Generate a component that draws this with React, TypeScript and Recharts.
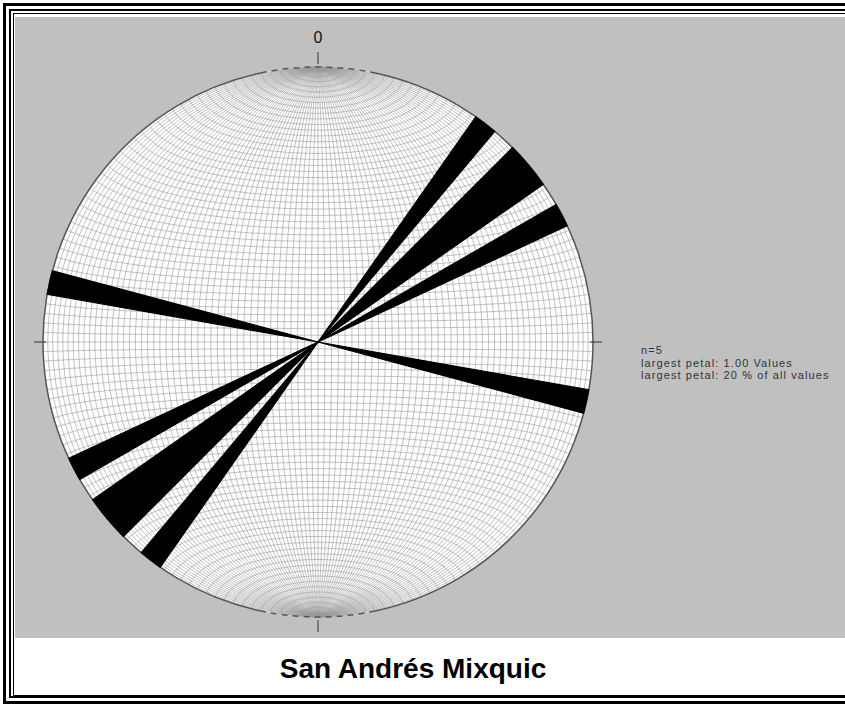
import React from "react";
import { PieChart, Pie, Cell, Customized } from "recharts";

// rose diagram, 5 degree classes, bidirectional (strike data)
const binSize = 5;
const strikeBins = [35, 45, 50, 60, 280];
const strikeCounts = [1, 1, 1, 1, 1];
const tickAngles = [0, 90, 180, 270];
const tickLabels = ["0", "", "", ""];
const statLines = [
  "n=5",
  "largest petal: 1.00 Values",
  "largest petal: 20 % of all values",
];
const title = "San Andrés Mixquic";

const W = 845;
const H = 704;
const CX = 318;
const CY = 342;
const R = 275;
const NET_STEP = 2;

const bins = Array.from({ length: 360 / binSize }, (_, i) => {
  const from = i * binSize;
  let count = 0;
  strikeBins.forEach((b, j) => {
    if (b === from || (b + 180) % 360 === from) count += strikeCounts[j];
  });
  return { from, span: binSize, count };
});

const rad = (d: number) => (d * Math.PI) / 180;

// equal-area (Schmidt) net, poles at N and S
function project(lam: number, phi: number) {
  const l = rad(lam);
  const p = rad(phi);
  const k = R / Math.sqrt(1 + Math.cos(p) * Math.cos(l));
  return [CX + k * Math.cos(p) * Math.sin(l), CY - k * Math.sin(p)];
}

function netPaths() {
  const out: string[] = [];
  for (let a = -90 + NET_STEP; a < 90; a += NET_STEP) {
    let g = "";
    let s = "";
    for (let t = -90; t <= 90; t += 1) {
      const [gx, gy] = project(a, t);
      g += (t === -90 ? "M" : "L") + gx.toFixed(1) + "," + gy.toFixed(1);
      const [sx, sy] = project(t, a);
      s += (t === -90 ? "M" : "L") + sx.toFixed(1) + "," + sy.toFixed(1);
    }
    out.push(g, s);
  }
  return out;
}

const polar = (az: number, r: number) => [
  CX + r * Math.sin(rad(az)),
  CY - r * Math.cos(rad(az)),
];

function arc(a0: number, a1: number) {
  const [x0, y0] = polar(a0, R);
  const [x1, y1] = polar(a1, R);
  const large = a1 - a0 > 180 ? 1 : 0;
  return `M${x0},${y0} A${R},${R} 0 ${large} 1 ${x1},${y1}`;
}

const NetLayer = () => (
  <g>
    <circle cx={CX} cy={CY} r={R} fill="#ffffff" />
    {netPaths().map((d, i) => (
      <path key={i} d={d} fill="none" stroke="#999" strokeWidth={0.6} />
    ))}
  </g>
);

const FrameLayer = () => (
  <g>
    <path d={arc(12, 168)} fill="none" stroke="#555" strokeWidth={1.5} />
    <path d={arc(192, 348)} fill="none" stroke="#555" strokeWidth={1.5} />
    <path d={arc(-12, 12)} fill="none" stroke="#555" strokeWidth={1.5} strokeDasharray="6 5" />
    <path d={arc(168, 192)} fill="none" stroke="#555" strokeWidth={1.5} strokeDasharray="6 5" />
    {tickAngles.map((az, i) => {
      const vertical = az % 180 === 0;
      const [x0, y0] = polar(az, vertical ? R + 3 : R - 3);
      const [x1, y1] = polar(az, vertical ? R + 15 : R + 9);
      const [lx, ly] = polar(az, R + 24);
      return (
        <g key={az}>
          <line x1={x0} y1={y0} x2={x1} y2={y1} stroke="#333" strokeWidth={1} />
          {tickLabels[i] && (
            <text x={lx} y={ly} textAnchor="middle" fontSize={16} fill="#111"
              fontFamily="Arial, 'Liberation Sans', sans-serif">
              {tickLabels[i]}
            </text>
          )}
        </g>
      );
    })}
    {statLines.map((s, i) => (
      <text key={i} x={641} y={354 + i * 12.5} fontSize={11} letterSpacing={1.1} fill="#333"
        fontFamily="Arial, 'Liberation Sans', sans-serif">
        {s}
      </text>
    ))}
    <text x={413} y={678} textAnchor="middle" fontSize={28} fontWeight="bold"
      fill="#000" fontFamily="Arial, 'Liberation Sans', sans-serif">
      {title}
    </text>
  </g>
);

export default function App() {
  return (
    <div style={{ position: "absolute", left: 0, top: 0, width: W, height: H, overflow: "hidden", background: "#fff" }}>
      {/* triple frame */}
      <div style={{ position: "absolute", left: 3, top: 3, width: 900, height: 701, border: "3px solid #000", boxSizing: "border-box" }} />
      <div style={{ position: "absolute", left: 9, top: 9, width: 900, height: 689, border: "2px solid #000", boxSizing: "border-box" }} />
      <div style={{ position: "absolute", left: 13, top: 13, width: 900, height: 683, border: "1px solid #000", boxSizing: "border-box" }} />
      <div style={{ position: "absolute", left: 15, top: 17, width: 900, height: 621, background: "#c0c0c0" }} />
      <div style={{ position: "absolute", left: 0, top: 0 }}>
        <PieChart width={W} height={H} margin={{ top: 0, right: 0, bottom: 0, left: 0 }}>
          <Customized component={NetLayer} />
          <Pie
            data={bins}
            dataKey="span"
            cx={CX}
            cy={CY}
            innerRadius={0}
            outerRadius={R}
            startAngle={90}
            endAngle={-270}
            isAnimationActive={false}
          >
            {bins.map((b) => (
              <Cell
                key={b.from}
                fill={b.count > 0 ? "#000" : "transparent"}
                stroke={b.count > 0 ? "#000" : "none"}
                strokeWidth={1.2}
              />
            ))}
          </Pie>
          <Customized component={FrameLayer} />
        </PieChart>
      </div>
    </div>
  );
}
